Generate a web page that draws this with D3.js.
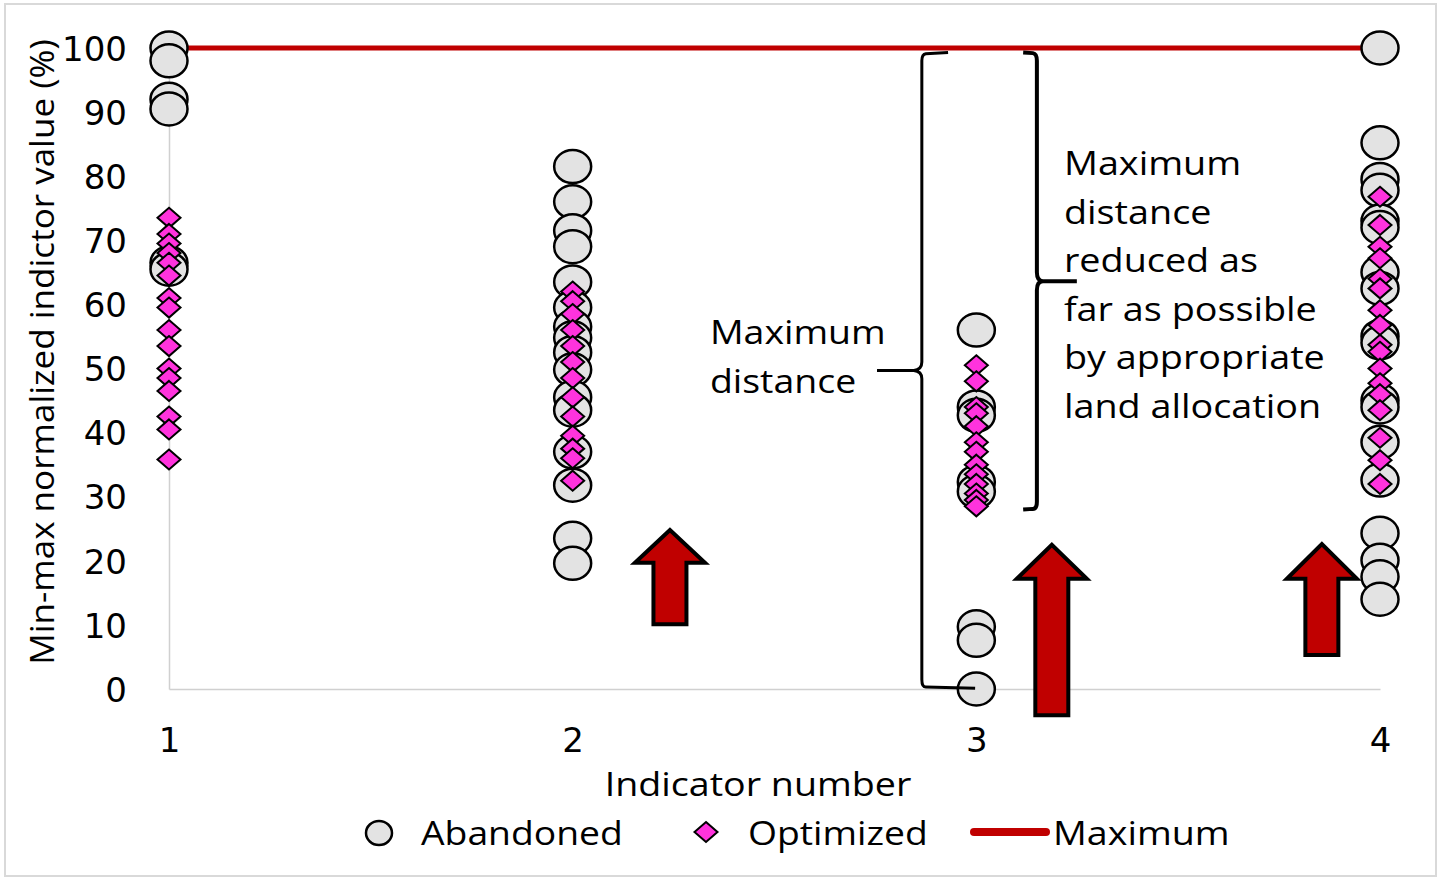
<!DOCTYPE html>
<html><head><meta charset="utf-8">
<script src="https://cdn.jsdelivr.net/npm/d3@7"></script>
<style>
html,body{margin:0;padding:0;background:#fff;}
svg{display:block;}
</style></head>
<body>
<svg id="chart" width="1441" height="879"></svg>
<script>
// ---- data ----
const indicators = [1, 2, 3, 4];
const yTicks = [0, 10, 20, 30, 40, 50, 60, 70, 80, 90, 100];
const abandoned1 = [100, 98, 92, 90.5, 66.5, 65.5];
const abandoned2 = [81.5, 76, 71.5, 69, 63.5, 59.5, 56.5, 54.8, 52.5, 49.8, 45.5, 43.5, 37, 31.8, 23.5, 19.6];
const abandoned3 = [56, 44, 42.7, 32.3, 30.8, 9.7, 7.6, 0];
const abandoned4 = [100, 85.2, 79.5, 77.8, 73, 72, 65, 62.5, 55, 54, 45, 44, 38.5, 32.6, 24.3, 20.1, 17.5, 14];
const optimized1 = [73.5, 71, 69.5, 68, 66.5, 64.5, 61, 59.5, 56, 53.5, 50, 48.5, 46.5, 42.5, 40.5, 35.8];
const optimized2 = [62, 60.5, 58.5, 56, 53.5, 51, 48.5, 45.5, 42.5, 39.5, 37.5, 36, 32.5];
const optimized3 = [50.5, 48, 44, 43, 41, 38.5, 37, 35, 33.5, 32, 30.5, 29.5, 28.5];
const optimized4 = [76.8, 72.4, 69, 67.2, 64, 62.5, 59.1, 56.8, 53.7, 52.6, 50, 47.7, 46, 43.5, 39.2, 35.7, 32];
const maximumLine = [100, 100, 100, 100];
const seriesNames = ["Abandoned", "Optimized", "Maximum"];
const xTitle = "Indicator number";
const yTitle = "Min-max normalized indictor value (%)";
const leftNote = ["Maximum", "distance"];
const rightNote = ["Maximum", "distance", "reduced as", "far as possible", "by appropriate", "land allocation"];
// arrows: [x, bottom, headBase, tip] in data units
const arrowX = [2.241, 3.187, 3.856];
const arrowBottom = [10.1, -4.1, 5.3];
const arrowHead = [19.7, 17.2, 17.2];
const arrowTip = [24.8, 22.5, 22.6];

const abandonedAll = [abandoned1, abandoned2, abandoned3, abandoned4];
const optimizedAll = [optimized1, optimized2, optimized3, optimized4];

// ---- layout ----
const svg = d3.select("#chart");
const x = d3.scaleLinear().domain([1, 4]).range([169, 1380]);
const y = d3.scaleLinear().domain([0, 100]).range([689, 48]);
const FONT = "'Open Sans', sans-serif";
const TICKFONT = "'DejaVu Sans', sans-serif";

// stretch text horizontally (reference text is a wide-set face)
function stretch(sel, k) {
  sel.each(function () {
    const w = this.getComputedTextLength();
    d3.select(this).attr("textLength", w * k).attr("lengthAdjust", "spacingAndGlyphs");
  });
}

// outer frame
svg.append("rect").attr("x", 5).attr("y", 4).attr("width", 1431).attr("height", 872)
  .attr("fill", "#fff").attr("stroke", "#d9d9d9").attr("stroke-width", 2);

// axes
const gy = svg.append("g").attr("transform", `translate(${x(1)},0)`)
  .call(d3.axisLeft(y).tickValues(yTicks).tickSize(0).tickPadding(42).tickFormat(d3.format("d")));
gy.select(".domain").attr("stroke", "#d0d0d0").attr("stroke-width", 1.5);
gy.selectAll("text").attr("font-family", TICKFONT).attr("font-size", 34).attr("fill", "#000").attr("dy", "0.36em");

const gx = svg.append("g").attr("transform", `translate(0,${y(0)})`)
  .call(d3.axisBottom(x).tickValues(indicators).tickSize(0).tickPadding(46).tickFormat(d3.format("d")));
gx.select(".domain").attr("stroke", "#d0d0d0").attr("stroke-width", 1.5);
gx.selectAll("text").attr("font-family", TICKFONT).attr("font-size", 34).attr("fill", "#000").attr("dy", "0.5em");

// axis titles
svg.append("text").attr("x", 758).attr("y", 796).attr("text-anchor", "middle")
  .attr("font-family", FONT).attr("font-size", 33).attr("fill", "#000").text(xTitle)
  .call(stretch, 1.14);
svg.append("text").attr("transform", "translate(54,352) rotate(-90)").attr("text-anchor", "middle")
  .attr("font-family", FONT).attr("font-size", 32).attr("fill", "#000").text(yTitle)
  .call(stretch, 1.095);

// maximum line
const line = d3.line().x((d, i) => x(indicators[i])).y(d => y(d));
svg.append("path").datum(maximumLine).attr("d", line)
  .attr("fill", "none").attr("stroke", "#c00000").attr("stroke-width", 5);

// abandoned points
const abData = abandonedAll.flatMap((arr, i) => arr.map(v => ({ x: indicators[i], v })));
svg.append("g").selectAll("ellipse").data(abData).join("ellipse")
  .attr("cx", d => x(d.x)).attr("cy", d => y(d.v)).attr("rx", 18.5).attr("ry", 16.5)
  .attr("fill", "#e3e3e3").attr("stroke", "#000").attr("stroke-width", 2.5);

// optimized points
const opData = optimizedAll.flatMap((arr, i) => arr.map(v => ({ x: indicators[i], v })));
const diamond = (cx, cy, w, h) => `M${cx},${cy - h}L${cx + w},${cy}L${cx},${cy + h}L${cx - w},${cy}Z`;
svg.append("g").selectAll("path").data(opData).join("path")
  .attr("d", d => diamond(x(d.x), y(d.v), 11.5, 10))
  .attr("fill", "#ff33dd").attr("stroke", "#000").attr("stroke-width", 2);

// brackets
const bk = svg.append("g").attr("fill", "none").attr("stroke", "#000").attr("stroke-linejoin", "round");
bk.append("path").attr("stroke-width", 3).attr("d",
  `M${x(2.93)},${y(99.3)} L${x(2.875)},${y(99.1)} Q${x(2.865)},${y(99)} ${x(2.865)},${y(98)}
   L${x(2.865)},${y(51)} Q${x(2.865)},${y(49.8)} ${x(2.845)},${y(49.7)} L${x(2.754)},${y(49.7)}
   M${x(2.845)},${y(49.7)} Q${x(2.865)},${y(49.6)} ${x(2.865)},${y(48.4)}
   L${x(2.865)},${y(1.5)} Q${x(2.865)},${y(0.3)} ${x(2.875)},${y(0.3)} L${x(2.997)},${y(0.1)}`);
bk.append("path").attr("stroke-width", 4).attr("d",
  `M${x(3.116)},${y(99.3)} L${x(3.14)},${y(99.2)} Q${x(3.15)},${y(99.1)} ${x(3.15)},${y(98)}
   L${x(3.15)},${y(65)} Q${x(3.15)},${y(63.6)} ${x(3.165)},${y(63.6)} L${x(3.249)},${y(63.6)}
   M${x(3.165)},${y(63.6)} Q${x(3.15)},${y(63.6)} ${x(3.15)},${y(62.2)}
   L${x(3.15)},${y(29.2)} Q${x(3.15)},${y(28.1)} ${x(3.14)},${y(28.1)} L${x(3.116)},${y(28.0)}`);

// notes
leftNote.forEach((t, i) => svg.append("text").attr("font-family", FONT).attr("font-size", 32)
  .attr("x", x(2.34)).attr("y", y(53.8) + i * 48.5).text(t).call(stretch, 1.17));
rightNote.forEach((t, i) => svg.append("text").attr("font-family", FONT).attr("font-size", 32)
  .attr("x", x(3.217)).attr("y", y(80.2) + i * 48.6).text(t).call(stretch, 1.18));

// arrows
const arrows = arrowX.map((ax, i) => ({ ax, b: arrowBottom[i], h: arrowHead[i], t: arrowTip[i] }));
svg.append("g").selectAll("path").data(arrows).join("path")
  .attr("d", d => {
    const cx = x(d.ax), sw = 16.5, hw = 35;
    return `M${cx - sw},${y(d.b)} L${cx - sw},${y(d.h)} L${cx - hw},${y(d.h)} L${cx},${y(d.t)}
            L${cx + hw},${y(d.h)} L${cx + sw},${y(d.h)} L${cx + sw},${y(d.b)} Z`;
  })
  .attr("fill", "#c00000").attr("stroke", "#000").attr("stroke-width", 4).attr("stroke-linejoin", "miter");

// legend
const lg = svg.append("g").attr("font-family", FONT).attr("font-size", 33).attr("fill", "#000");
lg.append("ellipse").attr("cx", 379).attr("cy", 833).attr("rx", 13).attr("ry", 12)
  .attr("fill", "#e3e3e3").attr("stroke", "#000").attr("stroke-width", 2.5);
lg.append("text").attr("x", 421).attr("y", 845).text(seriesNames[0]).call(stretch, 1.13);
lg.append("path").attr("d", diamond(706, 832, 11.5, 10))
  .attr("fill", "#ff33dd").attr("stroke", "#000").attr("stroke-width", 2);
lg.append("text").attr("x", 748).attr("y", 845).text(seriesNames[1]).call(stretch, 1.13);
lg.append("line").attr("x1", 974).attr("x2", 1046).attr("y1", 832).attr("y2", 832)
  .attr("stroke", "#c00000").attr("stroke-width", 8).attr("stroke-linecap", "round");
lg.append("text").attr("x", 1053).attr("y", 845).text(seriesNames[2]).call(stretch, 1.14);
</script>
</body></html>
